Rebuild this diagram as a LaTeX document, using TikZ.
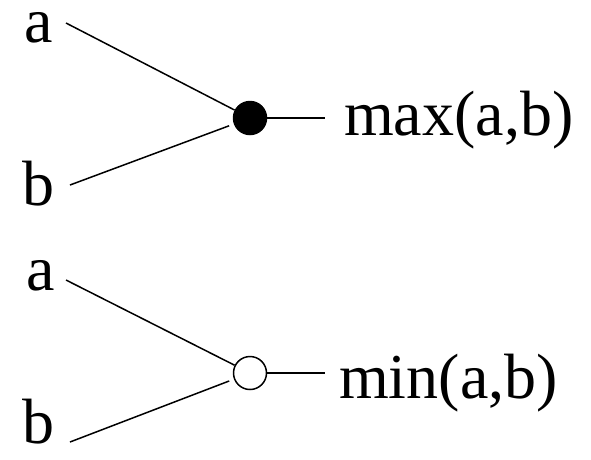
\documentclass[tikz,border=0pt]{standalone}
\usepackage{fontspec}
\setmainfont{Liberation Serif}
\begin{document}
\begin{tikzpicture}[x=1pt,y=1pt,
  lbl/.style={anchor=base west,inner sep=0pt,font=\fontsize{64}{70}\selectfont},
  gate/.style={circle,draw,line width=1.5pt,minimum size=33pt,inner sep=0pt},
  wire/.style={line width=1.5pt}]
\useasboundingbox (0,0) rectangle (591,-459);
% top: max
\node[lbl] (ta) at (24,-42) {a};
\node[lbl] (tb) at (22,-205) {b};
\node[gate,fill=black] (maxg) at (250,-118) {};
\node[lbl] (maxl) at (344,-135) {max(a,b)};
\coordinate (ta1) at (66,-23);
\coordinate (tb1) at (70,-185);
\coordinate (to1) at (325,-118);
\draw[wire] (ta1) -- (maxg);
\draw[wire,shorten >=5pt] (tb1) -- (maxg);
\draw[wire] (maxg) -- (to1);
% bottom: min
\node[lbl] (ba) at (26,-290) {a};
\node[lbl] (bb) at (22,-443) {b};
\node[gate,fill=white] (ming) at (250,-373) {};
\node[lbl] (minl) at (339,-398) {min(a,b)};
\coordinate (ba1) at (66,-280);
\coordinate (bb1) at (70,-442);
\coordinate (bo1) at (325,-373);
\draw[wire] (ba1) -- (ming);
\draw[wire,shorten >=5pt] (bb1) -- (ming);
\draw[wire] (ming) -- (bo1);
\end{tikzpicture}
\end{document}
